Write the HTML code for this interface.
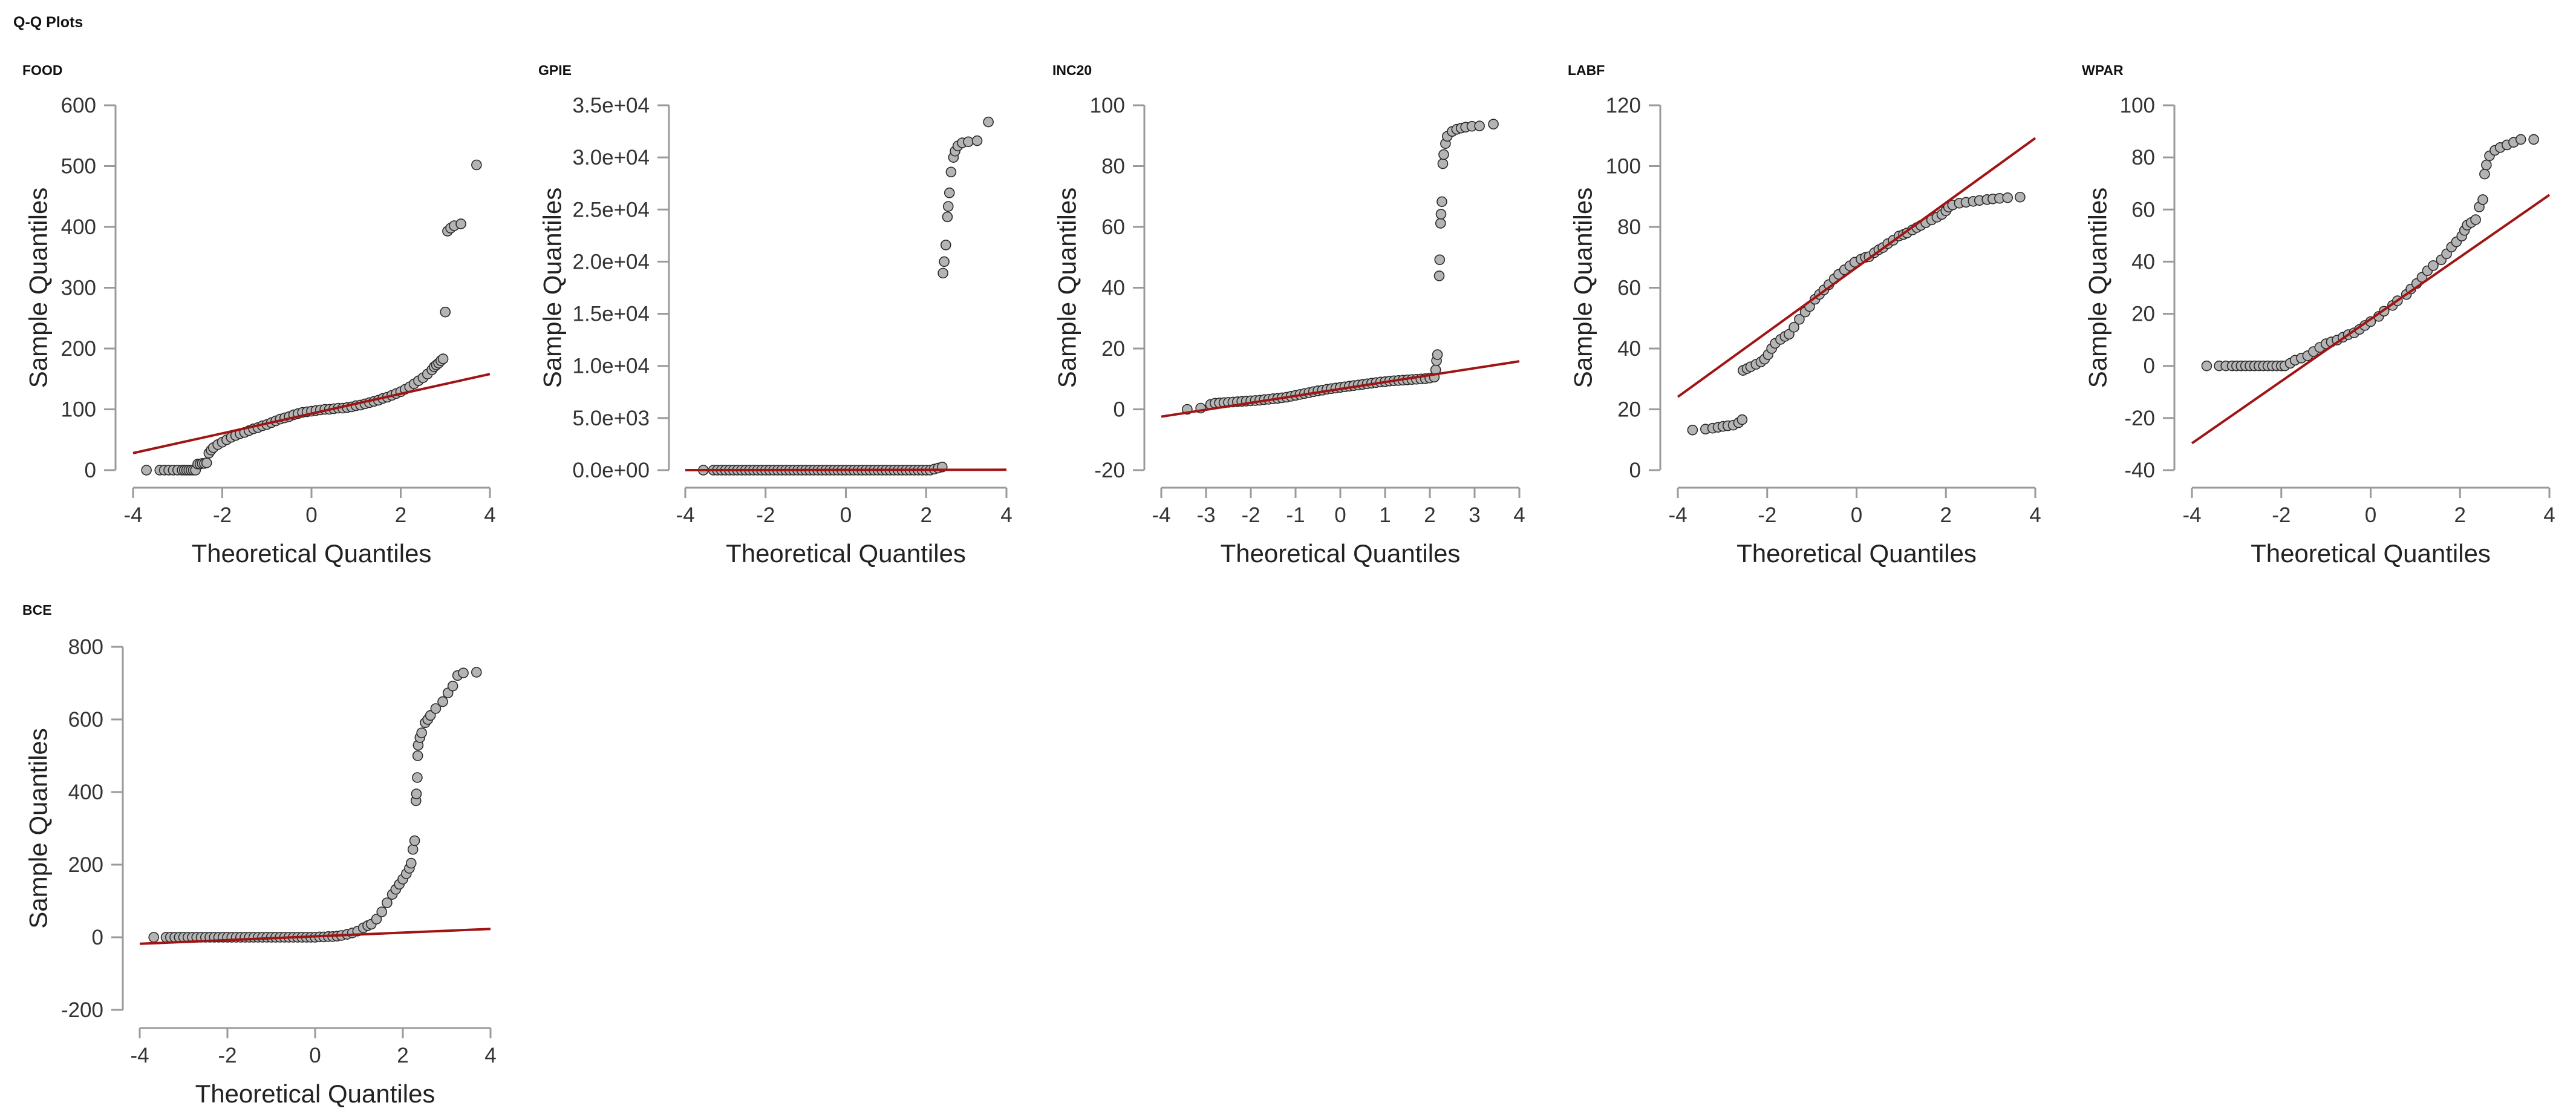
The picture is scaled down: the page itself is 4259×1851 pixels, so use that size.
<!DOCTYPE html>
<html><head><meta charset="utf-8">
<style>
html,body{margin:0;padding:0;background:#fff;}
svg{display:block;font-family:"Liberation Sans",Arial,sans-serif;}
</style></head>
<body>
<svg id="chart" width="4259" height="1851" viewBox="0 0 4259 1851" xmlns="http://www.w3.org/2000/svg">
<rect width="4259" height="1851" fill="#fff"/>
<text x="22" y="45" font-size="25" font-weight="bold" fill="#111">Q-Q Plots</text>
</svg>
<script>
// ---- data ----
const foodX=[-3.7,-3.4,-3.3,-3.2,-3.1,-3.0,-2.9,-2.85,-2.8,-2.75,-2.7,-2.65,-2.6,-2.55,-2.5,-2.45,-2.4,-2.35,-2.3,-2.25,-2.2,-2.1,-2.0,-1.9,-1.8,-1.7,-1.6,-1.5,-1.4,-1.3,-1.2,-1.1,-1.0,-0.9,-0.8,-0.7,-0.6,-0.5,-0.4,-0.3,-0.2,-0.1,0,0.1,0.2,0.3,0.4,0.5,0.6,0.7,0.8,0.9,1.0,1.1,1.2,1.3,1.4,1.5,1.6,1.7,1.8,1.9,2.0,2.1,2.2,2.3,2.4,2.5,2.6,2.7,2.75,2.8,2.85,2.9,2.95,3.0,3.05,3.12,3.2,3.35,3.7];
const foodY=[0,0,0,0,0,0,0,0,0,0,0,0,0,10,10,11,11,12,28,33,37,42,46,50,54,57,60,62,65,68,70,73,75,78,81,84,86,88,91,93,95,96,97,98,99,100,100,101,102,102,103,104,106,107,109,111,113,115,118,120,123,126,129,133,137,142,147,152,158,165,170,173,176,180,183,260,393,398,402,405,502];
const foodLine=[28,158];
const foodYTicks=[0,100,200,300,400,500,600];
const foodYLabels=["0","100","200","300","400","500","600"];

const gpieX=[-3.55,-3.3,-3.2,-3.1,-3.0,-2.9,-2.8,-2.7,-2.6,-2.5,-2.4,-2.3,-2.2,-2.1,-2.0,-1.9,-1.8,-1.7,-1.6,-1.5,-1.4,-1.3,-1.2,-1.1,-1.0,-0.9,-0.8,-0.7,-0.6,-0.5,-0.4,-0.3,-0.2,-0.1,0,0.1,0.2,0.3,0.4,0.5,0.6,0.7,0.8,0.9,1.0,1.1,1.2,1.3,1.4,1.5,1.6,1.7,1.8,1.9,2.0,2.1,2.2,2.3,2.4,2.42,2.45,2.49,2.53,2.55,2.58,2.62,2.68,2.72,2.79,2.9,3.05,3.27,3.55];
const gpieY=[0,0,0,0,0,0,0,0,0,0,0,0,0,0,0,0,0,0,0,0,0,0,0,0,0,0,0,0,0,0,0,0,0,0,0,0,0,0,0,0,0,0,0,0,0,0,0,0,0,0,0,0,0,0,0,0,100,200,300,18900,20000,21600,24300,25300,26600,28600,30000,30600,31100,31400,31500,31600,33400];
const gpieLine=[0,40];
const gpieYTicks=[0,5000,10000,15000,20000,25000,30000,35000];
const gpieYLabels=["0.0e+00","5.0e+03","1.0e+04","1.5e+04","2.0e+04","2.5e+04","3.0e+04","3.5e+04"];

const incX=[-3.42,-3.12,-2.9,-2.8,-2.7,-2.6,-2.5,-2.4,-2.3,-2.2,-2.1,-2.0,-1.9,-1.8,-1.7,-1.6,-1.5,-1.4,-1.3,-1.2,-1.1,-1.0,-0.9,-0.8,-0.7,-0.6,-0.5,-0.4,-0.3,-0.2,-0.1,0,0.1,0.2,0.3,0.4,0.5,0.6,0.7,0.8,0.9,1.0,1.1,1.2,1.3,1.4,1.5,1.6,1.7,1.8,1.9,2.0,2.1,2.13,2.15,2.17,2.21,2.22,2.24,2.25,2.27,2.29,2.31,2.35,2.39,2.5,2.6,2.7,2.8,2.94,3.11,3.42];
const incY=[0,0.4,1.6,2,2.1,2.2,2.3,2.4,2.5,2.6,2.7,2.8,2.9,3.0,3.2,3.3,3.5,3.6,3.8,4.0,4.3,4.6,4.9,5.2,5.5,5.8,6.1,6.3,6.6,6.8,7.0,7.2,7.4,7.6,7.8,8.0,8.2,8.4,8.6,8.8,9.0,9.1,9.3,9.4,9.5,9.6,9.7,9.8,9.9,10.0,10.1,10.3,10.6,13,16,18,43.9,49.2,61.2,64.2,68.3,80.8,83.8,87.4,89.8,91.4,92.1,92.5,92.8,93.1,93.2,93.8];
const incLine=[-2.4,15.8];
const incYTicks=[-20,0,20,40,60,80,100];
const incYLabels=["-20","0","20","40","60","80","100"];

const labfX=[-3.67,-3.38,-3.22,-3.1,-2.99,-2.88,-2.76,-2.64,-2.56,-2.54,-2.45,-2.37,-2.25,-2.14,-2.06,-1.98,-1.9,-1.82,-1.7,-1.6,-1.51,-1.4,-1.28,-1.15,-1.05,-0.93,-0.83,-0.73,-0.62,-0.5,-0.4,-0.27,-0.15,-0.04,0.1,0.2,0.28,0.4,0.5,0.59,0.7,0.82,0.95,1.05,1.13,1.25,1.35,1.44,1.55,1.68,1.8,1.91,2.0,2.06,2.15,2.3,2.45,2.61,2.75,2.92,3.05,3.2,3.38,3.66];
const labfY=[13.2,13.5,13.8,14.1,14.4,14.6,14.8,15.6,16.6,32.8,33.4,34,34.8,35.6,36.5,38,40,41.7,43,44,44.7,47,49.6,52,53.8,56.2,57.8,59.3,61,62.9,64.4,65.9,67.2,68.4,69.4,70,70.2,71.5,72.5,73.2,74.5,75.6,77,77.5,78,79,79.8,80.5,81.4,82.3,83.2,84.1,85.3,86.5,87.2,87.8,88.1,88.4,88.7,89,89.2,89.4,89.6,89.8];
const labfLine=[24.1,109.2];
const labfYTicks=[0,20,40,60,80,100,120];
const labfYLabels=["0","20","40","60","80","100","120"];

const wparX=[-3.67,-3.39,-3.24,-3.1,-3.0,-2.9,-2.8,-2.7,-2.6,-2.5,-2.4,-2.3,-2.2,-2.1,-2.0,-1.92,-1.8,-1.69,-1.55,-1.41,-1.28,-1.14,-1.0,-0.88,-0.75,-0.62,-0.5,-0.37,-0.25,-0.13,0,0.18,0.3,0.49,0.6,0.8,0.9,1.03,1.15,1.27,1.4,1.58,1.7,1.81,1.92,2.04,2.1,2.16,2.25,2.35,2.43,2.51,2.55,2.59,2.66,2.78,2.9,3.05,3.2,3.36,3.65];
const wparY=[0,0,0,0,0,0,0,0,0,0,0,0,0,0,0,0,1,2.2,3,3.9,5.5,7.1,8.5,9.2,9.9,11,12,12.7,14,15.5,17,19,21,23.2,25,27.4,29.5,31.6,34,36.5,38.5,40.7,43,45.6,47.6,49.8,52,54,55,56.1,61,63.8,73.6,77.1,80.6,82.7,83.8,84.8,85.8,86.9,86.9];
const wparLine=[-29.7,65.6];
const wparYTicks=[-40,-20,0,20,40,60,80,100];
const wparYLabels=["-40","-20","0","20","40","60","80","100"];

const bceX=[-3.68,-3.4,-3.3,-3.2,-3.1,-3.0,-2.9,-2.8,-2.7,-2.6,-2.5,-2.4,-2.3,-2.2,-2.1,-2.0,-1.9,-1.8,-1.7,-1.6,-1.5,-1.4,-1.3,-1.2,-1.1,-1.0,-0.9,-0.8,-0.7,-0.6,-0.5,-0.4,-0.3,-0.2,-0.1,0,0.1,0.2,0.3,0.4,0.5,0.6,0.73,0.85,0.97,1.1,1.2,1.28,1.4,1.52,1.64,1.76,1.84,1.92,2.0,2.08,2.15,2.19,2.23,2.27,2.3,2.31,2.33,2.34,2.35,2.39,2.43,2.51,2.57,2.63,2.75,2.91,3.03,3.14,3.25,3.38,3.68];
const bceY=[0,0,0,0,0,0,0,0,0,0,0,0,0,0,0,0,0,0,0,0,0,0,0,0,0,0,0,0,0,0,0,0,0,0,0,0,1,1,2,2,3,5,8,12,17,26,32,36,50,70,95,118,132,146,160,175,190,204,242,266,376,395,440,500,529,550,563,591,600,611,630,649,673,692,721,728,730];
const bceLine=[-18,23];
const bceYTicks=[-200,0,200,400,600,800];
const bceYLabels=["-200","0","200","400","600","800"];

const xTicksEven=[-4,-2,0,2,4];
const xTicksAll=[-4,-3,-2,-1,0,1,2,3,4];

// ---- layout ----
const NS="http://www.w3.org/2000/svg";
const svg=document.getElementById('chart');
function mk(tag,attrs,parent){const e=document.createElementNS(NS,tag);for(const k in attrs)e.setAttribute(k,attrs[k]);(parent||svg).appendChild(e);return e;}

const R1={ty:124,yTop:174,yBot:777,xAxisY:806};
const panels=[
 {key:'food',title:'FOOD',tx:37,ax:191,x0:220,x1:810,ytx:63,xs:foodX,ys:foodY,line:foodLine,yt:foodYTicks,yl:foodYLabels,xt:xTicksEven,...R1},
 {key:'gpie',title:'GPIE',tx:890,ax:1106,x0:1133,x1:1664,ytx:913,xs:gpieX,ys:gpieY,line:gpieLine,yt:gpieYTicks,yl:gpieYLabels,xt:xTicksEven,...R1},
 {key:'inc20',title:'INC20',tx:1740,ax:1892,x0:1920,x1:2512,ytx:1764,xs:incX,ys:incY,line:incLine,yt:incYTicks,yl:incYLabels,xt:xTicksAll,...R1},
 {key:'labf',title:'LABF',tx:2592,ax:2745,x0:2774,x1:3365,ytx:2617,xs:labfX,ys:labfY,line:labfLine,yt:labfYTicks,yl:labfYLabels,xt:xTicksEven,...R1},
 {key:'wpar',title:'WPAR',tx:3442,ax:3595,x0:3624,x1:4215,ytx:3468,xs:wparX,ys:wparY,line:wparLine,yt:wparYTicks,yl:wparYLabels,xt:xTicksEven,...R1},
 {key:'bce',title:'BCE',tx:37,ty:1016,ax:203,x0:231,x1:811,yTop:1069,yBot:1669,xAxisY:1699,ytx:63,xs:bceX,ys:bceY,line:bceLine,yt:bceYTicks,yl:bceYLabels,xt:xTicksEven}
];

panels.forEach(p=>{
  const g=mk('g',{});
  
  
  const yMin=p.yt[0], yMax=p.yt[p.yt.length-1];
  const sx=v=>p.x0+(v+4)/8*(p.x1-p.x0);
  const sy=v=>p.yBot-(v-yMin)/(yMax-yMin)*(p.yBot-p.yTop);

  const t=mk('text',{x:p.tx,y:p.ty,'font-size':23,'font-weight':'bold',fill:'#111'},g);
  t.textContent=p.title;
  
  

  const ya=mk('line',{x1:p.ax,y1:p.yTop,x2:p.ax,y2:p.yBot,stroke:'#9a9a9a','stroke-width':3},g);
  
  
  p.yt.forEach((v,i)=>{
    mk('line',{x1:p.ax-19,y1:sy(v),x2:p.ax,y2:sy(v),stroke:'#9a9a9a','stroke-width':3},g);
    const l=mk('text',{x:p.ax-32,y:sy(v)+12,'font-size':35,'text-anchor':'end',fill:'#333'},g);
    l.textContent=p.yl[i];
    
    
  });
  const xa=mk('line',{x1:p.x0,y1:p.xAxisY,x2:p.x1,y2:p.xAxisY,stroke:'#9a9a9a','stroke-width':3},g);
  
  
  p.xt.forEach(v=>{
    mk('line',{x1:sx(v),y1:p.xAxisY,x2:sx(v),y2:p.xAxisY+17,stroke:'#9a9a9a','stroke-width':3},g);
    const l=mk('text',{x:sx(v),y:p.xAxisY+57,'font-size':35,'text-anchor':'middle',fill:'#333'},g);
    l.textContent=String(v);
    
    
  });
  const xt=mk('text',{x:(p.x0+p.x1)/2,y:p.xAxisY+123,'font-size':42,'text-anchor':'middle',fill:'#222'},g);
  xt.textContent='Theoretical Quantiles';
  
  
  const cy=(p.yTop+p.yBot)/2;
  const ytt=mk('text',{x:p.ytx,y:cy,'font-size':42,'text-anchor':'middle','dominant-baseline':'central',fill:'#222',transform:`rotate(-90 ${p.ytx} ${cy})`},g);
  ytt.textContent='Sample Quantiles';
  
  

  p.xs.forEach((xv,i)=>{
    const c=mk('circle',{cx:sx(xv),cy:sy(p.ys[i]),r:8,fill:'#b4b4b4',stroke:'#2a2a2a','stroke-width':1.6},g);
    
    
  });
  const rl=mk('line',{x1:sx(-4),y1:sy(p.line[0]),x2:sx(4),y2:sy(p.line[1]),stroke:'#a01414','stroke-width':4},g);
  
  
});
</script>
</body></html>
